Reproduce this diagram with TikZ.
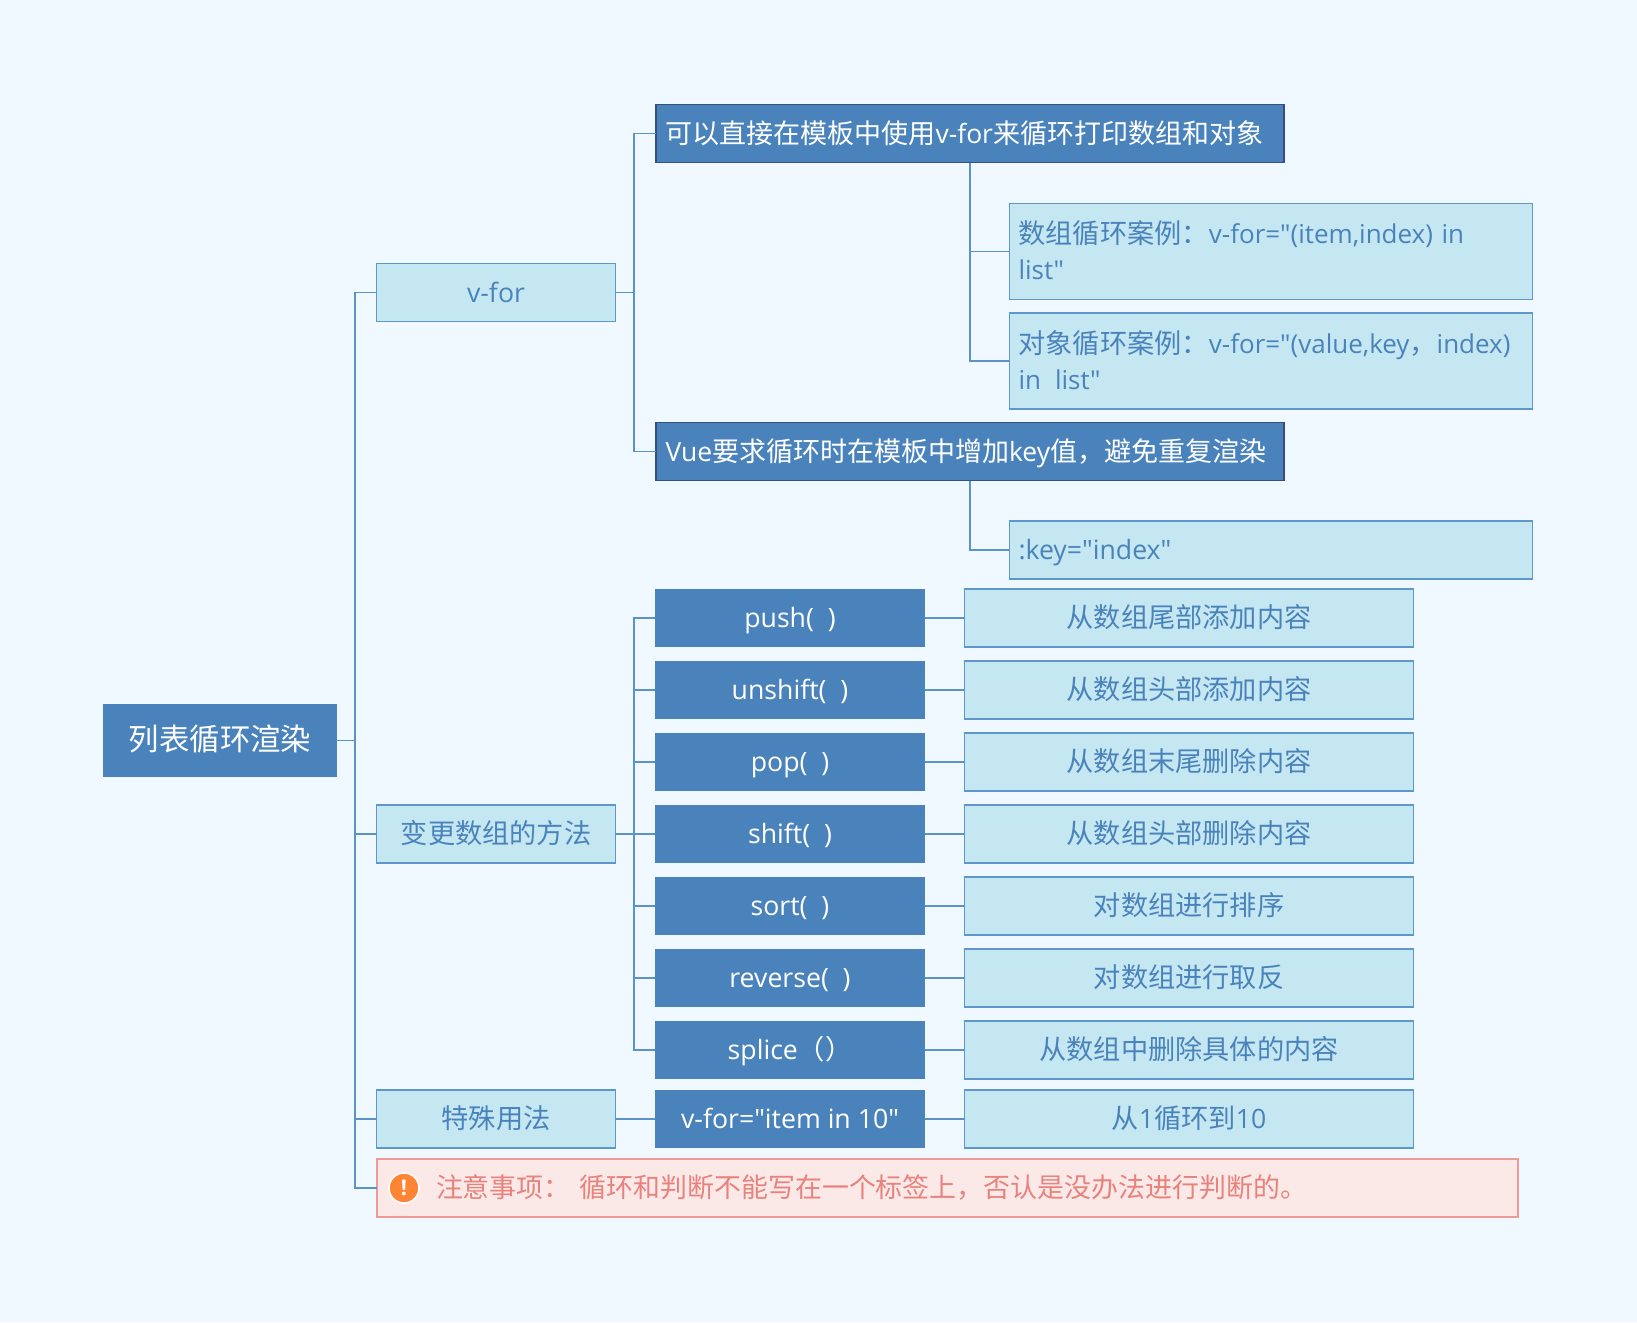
\documentclass[tikz,border=0pt]{standalone}
\usepackage{fontspec}
\newfontfamily\enfont[Scale=0.98]{Open Sans}
\newfontfamily\ensub[Scale=0.955]{Open Sans}
\newfontfamily\cjk{Noto Sans CJK SC}
\newcommand{\zh}[1]{{\cjk #1}}
\newcommand{\lift}{\rule[-2.5pt]{0pt}{1pt}}
\definecolor{bgc}{HTML}{EFF9FF}
\definecolor{mainblue}{HTML}{4A83BC}
\definecolor{lightbox}{HTML}{C5E7F2}
\definecolor{boxedge}{HTML}{5E97CB}
\definecolor{darkedge}{HTML}{34507E}
\definecolor{warnfill}{HTML}{FBE9E8}
\definecolor{warnedge}{HTML}{F09A98}
\definecolor{warntext}{HTML}{E8827C}
\definecolor{warnicon}{HTML}{FF8433}
\definecolor{linkc}{HTML}{5B93C7}
\tikzset{
  x=1pt,y=-1pt,
  basebox/.style={rectangle,outer sep=0pt,inner sep=0pt,font=\fontsize{27.2}{36.5}\selectfont\enfont},
  single/.style={text height=23pt,text depth=4pt},
  rootbox/.style={basebox,single,fill=mainblue,text=white,minimum width=234pt,minimum height=73pt,font=\fontsize{30.4}{36}\selectfont\enfont},
  lightnode/.style={basebox,fill=lightbox,draw=boxedge,line width=1.5pt,text=mainblue},
  catbox/.style={lightnode,single,minimum width=239pt,minimum height=58pt},
  descbox/.style={lightnode,single,minimum width=449pt,minimum height=58pt},
  methodbox/.style={basebox,single,fill=mainblue,text=white,minimum width=270pt,minimum height=58pt},
  topicbox/.style={basebox,single,fill=mainblue,draw=darkedge,line width=1.5pt,text=white,minimum width=628pt,minimum height=58pt,text width=609pt,align=left,font=\fontsize{27}{36.5}\selectfont\enfont},
  subbox/.style={lightnode,minimum width=523pt,text width=505pt,align=left,font=\fontsize{27.2}{36}\selectfont\ensub},
  keybox/.style={lightnode,single,minimum width=523pt,minimum height=58pt,text width=505pt,align=left},
  warnbox/.style={basebox,single,fill=warnfill,draw=warnedge,line width=1.5pt,text=warntext,minimum width=1141pt,minimum height=58pt,text width=1121pt,align=left,font=\fontsize{26.95}{36.5}\selectfont\enfont},
  iconmark/.style={circle,fill=warnicon,draw=white,line width=1.5pt,minimum size=30pt,inner sep=0pt,text=white,font=\fontsize{22}{24}\selectfont\enfont\bfseries},
  link/.style={draw=linkc,line width=1.5pt},
}
\begin{document}
\begin{tikzpicture}
\fill[bgc] (0,0) rectangle (1637,1322);
\useasboundingbox (0,0) rectangle (1637,1322);
% junction coordinates
\coordinate (trunk) at (355,0);
\coordinate (spine) at (634,0);
\coordinate (stem) at (970,0);
% nodes
\node[rootbox] (root) at (220,740.5) {\zh{列表循环渲染}};
\node[catbox] (vfor) at (496,292.5) {v-for};
\node[catbox] (change) at (496,834) {\zh{变更数组的方法}};
\node[catbox] (special) at (496,1119) {\zh{特殊用法}};
\node[warnbox] (warn) at (947.5,1188) {\hspace*{49pt}\zh{注意事项： 循环和判断不能写在一个标签上，否认是没办法进行判断的。}};
\node[iconmark] (icon) at (404,1188) {!};
\node[topicbox] (t1) at (970,133.5) {\zh{可以直接在模板中使用}v-for\zh{来循环打印数组和对象}};
\node[topicbox] (t2) at (970,451.5) {Vue\zh{要求循环时在模板中增加}key\zh{值，避免重复渲染}};
\node[subbox,minimum height=96pt] (s1) at (1271,251.5) {\zh{数组循环案例：}v-for="(item,index) in\\list"\lift};
\node[subbox,minimum height=96pt] (s2) at (1271,361) {\zh{对象循环案例：}v-for="(value,key\zh{，}index)\\in\hspace{14pt}list"\lift};
\node[keybox] (s3) at (1271,550) {:key="index"};
\foreach \nm/\y/\m/\d in {
  push/618/push(\ \ )/\zh{从数组尾部添加内容},
  unshift/690/unshift(\ \ )/\zh{从数组头部添加内容},
  pop/762/pop(\ \ )/\zh{从数组末尾删除内容},
  shift/834/shift(\ \ )/\zh{从数组头部删除内容},
  sort/906/sort(\ \ )/\zh{对数组进行排序},
  reverse/978/reverse(\ \ )/\zh{对数组进行取反},
  splice/1050/splice\zh{（）}/\zh{从数组中删除具体的内容},
  item/1119/v-for="item in 10"/\zh{从}1\zh{循环到}10
}{
  \node[methodbox] (m\nm) at (790,\y) {\m};
  \node[descbox] (d\nm) at (1189,\y) {\d};
  \draw[link] (m\nm.east) -- (d\nm.west);
}
% connectors
\foreach \kid in {vfor,change,special,warn}{
  \draw[link] (root.east) -- (root.east -| trunk) |- (\kid.west);
}
\foreach \kid in {t1,t2}{
  \draw[link] (vfor.east) -- (vfor.east -| spine) |- (\kid.west);
}
\foreach \kid in {push,unshift,pop,shift,sort,reverse,splice}{
  \draw[link] (change.east) -- (change.east -| spine) |- (m\kid.west);
}
\draw[link] (special.east) -- (mitem.west);
\foreach \kid in {s1,s2}{
  \draw[link] (t1.south -| stem) |- (\kid.west);
}
\draw[link] (t2.south -| stem) |- (s3.west);
\end{tikzpicture}
\end{document}
